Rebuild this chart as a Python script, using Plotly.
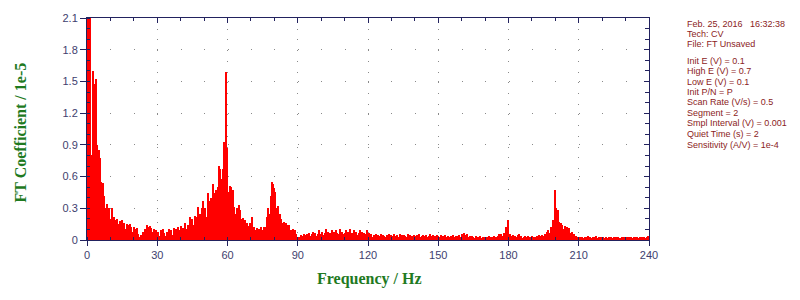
import numpy as np
import plotly.graph_objects as go

# Frequency axis: 0 .. 240 Hz, step 0.5 Hz
step_hz = 0.5
# FT coefficient values (units of 1e-5), 10 values per 5 Hz
ft_values = [
    2.6, 2.5, 2.3, 2.2, 0.8, 1.6, 1.48, 0.25, 1.52, 0.9,
    0.85, 0.78, 0.55, 0.37, 0.54, 0.42, 0.3, 0.34, 0.22, 0.3,
    0.2, 0.3, 0.16, 0.22, 0.19, 0.12, 0.2, 0.15, 0.18, 0.1,
    0.19, 0.13, 0.16, 0.1, 0.15, 0.14, 0.09, 0.15, 0.12, 0.08,
    0.12, 0.1, 0.07, 0.11, 0.06, 0.03, 0.05, 0.04, 0.08, 0.07,
    0.1, 0.14, 0.12, 0.09, 0.13, 0.11, 0.08, 0.1, 0.07, 0.09,
    0.06, 0.08, 0.04, 0.09, 0.05, 0.1, 0.07, 0.04, 0.08, 0.06,
    0.1, 0.06, 0.09, 0.05, 0.11, 0.08, 0.1, 0.06, 0.12, 0.09,
    0.13, 0.08, 0.11, 0.07, 0.16, 0.1, 0.14, 0.09, 0.22, 0.15,
    0.2, 0.14, 0.23, 0.17, 0.22, 0.31, 0.19, 0.25, 0.3, 0.37,
    0.28, 0.3, 0.22, 0.44, 0.37, 0.31, 0.4, 0.35, 0.53, 0.44,
    0.47, 0.4, 0.5, 0.7, 0.67, 0.58, 0.67, 0.93, 0.8, 1.59,
    0.87, 0.45, 0.51, 0.5, 0.37, 0.47, 0.31, 0.25, 0.3, 0.23,
    0.33, 0.28, 0.2, 0.21, 0.17, 0.19, 0.15, 0.16, 0.13, 0.16,
    0.12, 0.22, 0.11, 0.12, 0.09, 0.11, 0.08, 0.1, 0.07, 0.12,
    0.09, 0.12, 0.1, 0.12, 0.22, 0.3, 0.25, 0.42, 0.55, 0.53,
    0.49, 0.45, 0.3, 0.32, 0.23, 0.25, 0.2, 0.16, 0.17, 0.13,
    0.16, 0.14, 0.11, 0.14, 0.09, 0.08, 0.1, 0.07, 0.09, 0.06,
    0.02, 0.03, 0.02, 0.05, 0.04, 0.06, 0.05, 0.03, 0.06, 0.05,
    0.07, 0.04, 0.06, 0.08, 0.05, 0.07, 0.04, 0.06, 0.09, 0.05,
    0.06, 0.08, 0.05, 0.07, 0.1, 0.06, 0.08, 0.05, 0.07, 0.09,
    0.06, 0.08, 0.05, 0.09, 0.07, 0.06, 0.1, 0.05, 0.08, 0.06,
    0.07, 0.09, 0.05, 0.08, 0.06, 0.1, 0.07, 0.05, 0.09, 0.06,
    0.08, 0.05, 0.07, 0.09, 0.06, 0.08, 0.05, 0.07, 0.06, 0.09,
    0.05, 0.07, 0.04, 0.06, 0.03, 0.05, 0.04, 0.06, 0.03, 0.05,
    0.04, 0.06, 0.03, 0.05, 0.04, 0.03, 0.05, 0.04, 0.06, 0.03,
    0.05, 0.04, 0.06, 0.03, 0.04, 0.05, 0.03, 0.06, 0.04, 0.05,
    0.03, 0.05, 0.04, 0.03, 0.06, 0.04, 0.05, 0.03, 0.04, 0.05,
    0.04, 0.03, 0.05, 0.04, 0.06, 0.03, 0.04, 0.05, 0.03, 0.04,
    0.05, 0.03, 0.04, 0.06, 0.04, 0.03, 0.05, 0.04, 0.03, 0.05,
    0.04, 0.03, 0.05, 0.04, 0.03, 0.04, 0.05, 0.03, 0.04, 0.03,
    0.03, 0.04, 0.03, 0.05, 0.03, 0.04, 0.03, 0.04, 0.05, 0.03,
    0.06, 0.04, 0.07, 0.05, 0.04, 0.06, 0.03, 0.04, 0.03, 0.04,
    0.03, 0.02, 0.04, 0.03, 0.02, 0.03, 0.04, 0.02, 0.03, 0.02,
    0.03, 0.02, 0.03, 0.04, 0.02, 0.03, 0.02, 0.03, 0.04, 0.03,
    0.03, 0.04, 0.06, 0.05, 0.06, 0.04, 0.07, 0.05, 0.12, 0.11,
    0.19, 0.06, 0.04, 0.03, 0.05, 0.03, 0.04, 0.03, 0.05, 0.06,
    0.03, 0.04, 0.02, 0.03, 0.04, 0.03, 0.02, 0.04, 0.03, 0.03,
    0.04, 0.03, 0.02, 0.03, 0.04, 0.03, 0.05, 0.03, 0.04, 0.05,
    0.04, 0.06, 0.05, 0.08, 0.09, 0.07, 0.12, 0.1, 0.19, 0.15,
    0.47, 0.3, 0.28, 0.17, 0.12, 0.16, 0.14, 0.1, 0.13, 0.11,
    0.12, 0.08, 0.11, 0.07, 0.08, 0.05, 0.06, 0.03, 0.04, 0.03,
    0.02, 0.03, 0.02, 0.03, 0.02, 0.03, 0.02, 0.03, 0.04, 0.02,
    0.03, 0.02, 0.03, 0.02, 0.03, 0.04, 0.02, 0.03, 0.02, 0.03,
    0.02, 0.03, 0.02, 0.03, 0.02, 0.02, 0.03, 0.02, 0.03, 0.02,
    0.03, 0.02, 0.03, 0.02, 0.03, 0.02, 0.02, 0.03, 0.02, 0.03,
    0.02, 0.03, 0.02, 0.03, 0.02, 0.03, 0.02, 0.03, 0.03, 0.02,
    0.03, 0.02, 0.03, 0.02, 0.03, 0.02, 0.03, 0.02, 0.03, 0.04,
    0.03,
]
frequencies = [i * step_hz for i in range(len(ft_values))]

x_ticks = [0, 30, 60, 90, 120, 150, 180, 210, 240]
y_ticks = [0, 0.3, 0.6, 0.9, 1.2, 1.5, 1.8, 2.1]

info_lines = [
    "Feb. 25, 2016   16:32:38",
    "Tech: CV",
    "File: FT Unsaved",
    "Init E (V) = 0.1",
    "High E (V) = 0.7",
    "Low E (V) = 0.1",
    "Init P/N = P",
    "Scan Rate (V/s) = 0.5",
    "Segment = 2",
    "Smpl Interval (V) = 0.001",
    "Quiet Time (s) = 2",
    "Sensitivity (A/V) = 1e-4",
]

AX = "#22225e"
LBL = "#3e3e6e"
GRID = "#8a8a8a"
TITLE_GREEN = "#1f7a1f"
INFO = "#8b2323"

fig = go.Figure()
fig.add_trace(go.Bar(
    x=frequencies, y=ft_values, width=step_hz,
    marker=dict(color="#ff0000", line=dict(width=0)),
    showlegend=False, hoverinfo="x+y",
))
fig.add_trace(go.Scatter(x=[None], y=[None], xaxis="x2", yaxis="y2",
                         showlegend=False, hoverinfo="skip"))

L, R, T, B = 87, 151, 15, 60
W, H = 800, 300
pw, ph = W - L - R, H - T - B

fig.update_layout(
    width=W, height=H,
    margin=dict(l=L, r=R, t=T, b=B, pad=0),
    paper_bgcolor="white", plot_bgcolor="white",
    bargap=0,
    font=dict(family="Liberation Sans, Arial, sans-serif", size=11, color=LBL),
    xaxis=dict(
        range=[0, 240], tickvals=x_ticks, ticks="outside", ticklen=5,
        tickcolor=AX, showline=True, linecolor=AX, linewidth=1,
        showgrid=True, gridcolor=GRID, gridwidth=1,
        griddash="1px,%.3fpx" % (ph / 21 - 1),
        zeroline=False, tickfont=dict(size=11, color=LBL),
        minor=dict(dtick=10, tick0=0, ticks="inside", ticklen=3,
                   tickcolor=AX, showgrid=False),
    ),
    xaxis2=dict(
        overlaying="x", side="top", range=[0, 240], tickvals=x_ticks,
        ticks="inside", ticklen=5, tickcolor=AX, showticklabels=False,
        showline=True, linecolor=AX, linewidth=1, showgrid=False,
        zeroline=False,
        minor=dict(dtick=10, tick0=0, ticks="inside", ticklen=3,
                   tickcolor=AX, showgrid=False),
    ),
    yaxis=dict(
        range=[0, 2.1], tickvals=y_ticks, ticks="outside", ticklen=6,
        tickcolor=AX, showline=True, linecolor=AX, linewidth=1,
        showgrid=True, gridcolor=GRID, gridwidth=1,
        griddash="1px,%.3fpx" % (pw / 24 - 1),
        zeroline=False, tickfont=dict(size=11, color=LBL),
        minor=dict(dtick=0.1, tick0=0, ticks="inside", ticklen=3,
                   tickcolor=AX, showgrid=False),
    ),
    yaxis2=dict(
        overlaying="y", side="right", range=[0, 2.1], tickvals=y_ticks,
        ticks="inside", ticklen=5, tickcolor=AX, showticklabels=False,
        showline=True, linecolor=AX, linewidth=1, showgrid=False,
        zeroline=False,
        minor=dict(dtick=0.1, tick0=0, ticks="inside", ticklen=4,
                   tickcolor=AX, showgrid=False),
    ),
)

def px_to_paper_x(px):
    return (px - L) / pw

def px_to_paper_y(py):
    return (H - B - py) / ph

annotations = [
    dict(text="<b>Frequency / Hz</b>", xref="paper", yref="paper",
         x=px_to_paper_x(369), y=px_to_paper_y(280), xanchor="center",
         yanchor="middle", showarrow=False,
         font=dict(family="Liberation Serif, Times New Roman, serif",
                   size=16, color=TITLE_GREEN)),
    dict(text="<b>FT Coefficient / 1e-5</b>", xref="paper", yref="paper",
         x=px_to_paper_x(20), y=px_to_paper_y(131), xanchor="center",
         yanchor="middle", showarrow=False, textangle=-90,
         font=dict(family="Liberation Serif, Times New Roman, serif",
                   size=16, color=TITLE_GREEN)),
]
line_y = [20.7, 31.2, 41.7, 58.3, 69.0, 79.5, 90.0, 100.5, 111.0, 121.5, 132.5, 143.8]
for txt, yy in zip(info_lines, line_y):
    annotations.append(dict(
        text=txt, xref="paper", yref="paper", x=px_to_paper_x(685),
        y=px_to_paper_y(yy), xanchor="left", yanchor="middle",
        showarrow=False,
        font=dict(family="Liberation Sans, Arial, sans-serif", size=9, color=INFO)))
fig.update_layout(annotations=annotations)

fig.write_html("out.html")
